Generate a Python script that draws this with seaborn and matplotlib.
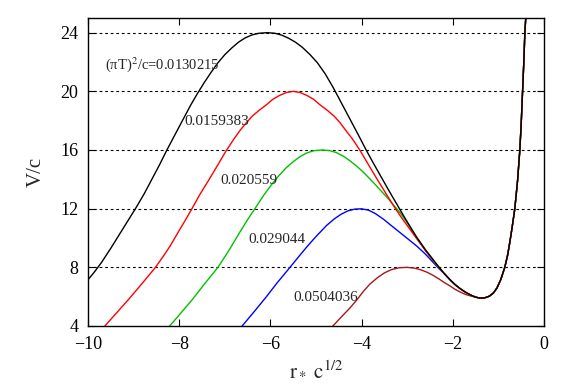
import numpy as np
import pandas as pd
import matplotlib
matplotlib.use('Agg')
import matplotlib.pyplot as plt
import seaborn as sns

# values
labels = ['0.0130215', '0.0159383', '0.020559', '0.029044', '0.0504036']
colors = ['black', '#ff0000', '#00c000', '#0000ff', '#a01a1a']

# shared right-hand branch (all curves merge here)
tail_r = [-2.18, -2.06, -1.95, -1.84, -1.72, -1.6, -1.5, -1.4, -1.3, -1.2, -1.11, -1.03, -0.95,
          -0.86, -0.8, -0.75, -0.7, -0.64, -0.58, -0.53, -0.5, -0.47, -0.44, -0.42, -0.39]
tail_v = [7.55, 7.15, 6.82, 6.55, 6.3, 6.1, 5.97, 5.9, 5.92, 6.03, 6.25, 6.6, 7.15,
          8.0, 8.8, 9.7, 10.7, 12.0, 13.9, 16.0, 17.8, 20.0, 22.2, 24.0, 25.5]

black_r = [-10.0, -9.85, -9.7, -9.5, -9.3, -9.12, -8.95, -8.77, -8.6, -8.43, -8.27, -8.1, -7.93,
           -7.75, -7.6, -7.45, -7.3, -7.15, -7.0, -6.85, -6.7, -6.55, -6.4, -6.25, -6.07, -5.9,
           -5.75, -5.6, -5.45, -5.3, -5.13, -4.97, -4.8, -4.63, -4.45, -4.22, -4.05, -3.9, -3.75,
           -3.6, -3.45, -3.33, -3.17, -3.0, -2.79, -2.6, -2.45, -2.3]
black_v = [7.15, 7.72, 8.35, 9.3, 10.3, 11.2, 12.05, 13.0, 14.0, 15.0, 16.0, 17.0, 18.0,
           19.05, 19.85, 20.6, 21.3, 21.95, 22.5, 22.95, 23.35, 23.65, 23.85, 23.96, 24.0, 23.96,
           23.83, 23.62, 23.35, 23.0, 22.5, 21.95, 21.2, 20.3, 19.25, 17.9, 16.9, 16.0, 15.15,
           14.32, 13.5, 12.85, 12.0, 11.1, 10.05, 9.2, 8.6, 8.0]

red_r = [-9.75, -9.63, -9.4, -9.1, -8.8, -8.52, -8.35, -8.2, -8.04, -7.88, -7.72, -7.55, -7.35,
         -7.15, -6.97, -6.8, -6.65, -6.52, -6.4, -6.25, -6.08, -5.95, -5.8, -5.65, -5.5, -5.35,
         -5.2, -5.05, -4.92, -4.75, -4.6, -4.48, -4.35, -4.2, -4.03, -3.85, -3.65, -3.45, -3.3,
         -3.15, -3.0, -2.79, -2.6, -2.45, -2.3]
red_v = [3.6, 4.0, 4.8, 5.85, 6.95, 8.0, 8.75, 9.45, 10.3, 11.14, 12.0, 12.95, 13.96,
         15.0, 15.95, 16.75, 17.4, 17.88, 18.3, 18.7, 19.1, 19.45, 19.72, 19.92, 20.0, 19.92,
         19.72, 19.45, 19.1, 18.7, 18.3, 17.89, 17.35, 16.75, 15.95, 15.0, 13.96, 12.95, 12.2,
         11.5, 10.85, 9.95, 9.15, 8.55, 8.0]

green_r = [-8.3, -8.21, -8.0, -7.7, -7.45, -7.15, -6.9, -6.67, -6.5, -6.34, -6.15, -5.94, -5.8,
           -5.65, -5.5, -5.35, -5.2, -5.05, -4.86, -4.7, -4.55, -4.4, -4.25, -4.1, -3.95, -3.74,
           -3.6, -3.45, -3.3, -3.15, -3.0, -2.79, -2.6, -2.45, -2.3]
green_v = [3.7, 4.0, 4.75, 5.85, 6.85, 8.0, 9.2, 10.4, 11.25, 12.0, 12.9, 13.78, 14.3,
           14.8, 15.2, 15.55, 15.8, 15.95, 16.0, 15.96, 15.82, 15.58, 15.25, 14.88, 14.45, 13.78,
           13.3, 12.8, 12.25, 11.7, 11.05, 10.0, 9.15, 8.55, 7.95]

blue_r = [-6.7, -6.62, -6.35, -6.1, -5.85, -5.57, -5.4, -5.2, -5.0, -4.77, -4.6, -4.45, -4.3,
          -4.15, -4.0, -3.85, -3.7, -3.52, -3.35, -3.15, -2.97, -2.79, -2.6, -2.45, -2.3]
blue_v = [3.7, 4.0, 5.0, 5.95, 6.95, 8.0, 8.65, 9.4, 10.1, 10.85, 11.3, 11.62, 11.85,
          11.97, 11.99, 11.9, 11.67, 11.28, 10.85, 10.35, 9.9, 9.45, 8.9, 8.4, 7.9]

brown_r = [-4.7, -4.63, -4.45, -4.25, -4.1, -3.95, -3.82, -3.65, -3.5, -3.35, -3.18, -3.01,
           -2.85, -2.7, -2.56, -2.43, -2.3, -2.18, -2.06, -1.95, -1.84, -1.72, -1.6, -1.5]
brown_v = [3.8, 4.0, 4.6, 5.25, 5.8, 6.4, 6.85, 7.3, 7.62, 7.84, 7.97, 8.0,
           7.95, 7.83, 7.66, 7.45, 7.2, 6.95, 6.73, 6.5, 6.32, 6.15, 6.04, 5.96]

curves = [(black_r, black_v), (red_r, red_v), (green_r, green_v), (blue_r, blue_v), (brown_r, brown_v)]

frames = []
for lab, (r, v) in zip(labels, curves):
    # join each curve onto the common branch where it starts to follow it
    keep = [i for i, t in enumerate(tail_r) if t > r[-1] + 1e-9]
    rr = list(r) + [tail_r[i] for i in keep]
    vv = list(v) + [tail_v[i] for i in keep]
    frames.append(pd.DataFrame({'r': rr, 'V': vv, 'T': lab}))
df = pd.concat(frames, ignore_index=True)

sns.set_theme(style='ticks')
plt.rcParams['font.family'] = ['Liberation Serif', 'DejaVu Serif']
plt.rcParams['mathtext.fontset'] = 'stix'

fig = plt.figure(figsize=(5.61, 3.92), dpi=100)
ax = fig.add_axes([88 / 561, 1 - 326 / 392, 456 / 561, 308 / 392])

sns.lineplot(data=df, x='r', y='V', hue='T', hue_order=labels[::-1],
             palette=dict(zip(labels, colors)), estimator=None, sort=False,
             legend=False, linewidth=1.0, ax=ax)

ax.set_xlim(-10, 0)
ax.set_ylim(4, 25)
ax.set_xticks(np.arange(-10, 1, 2))
ax.set_yticks(np.arange(4, 25, 4))
ax.set_xticklabels(['\u221210', '\u22128', '\u22126', '\u22124', '\u22122', '0'])
for yv in [8, 12, 16, 20, 24]:
    ax.axhline(yv, color='black', lw=0.8, ls=(0, (2.5, 2.5)), zorder=0)

ax.tick_params(direction='in', length=5, width=0.8, top=True, right=True,
               labelsize=13, colors='black', pad=7)
for s in ax.spines.values():
    s.set_linewidth(1.0)
    s.set_color('black')

ax.set_xlabel(r'$\mathrm{r_*\ c^{1/2}}$', fontsize=15, labelpad=6)
ax.set_ylabel('V/c', fontsize=15, labelpad=10)

ax.text(-9.62, 21.8, '(\u03c0T)$^{2}$/c=0.0130215', fontsize=10.5, va='center', ha='left')
ax.text(-7.88, 17.96, '0.0159383', fontsize=11, va='center', ha='left')
ax.text(-7.09, 13.94, '0.020559', fontsize=11, va='center', ha='left')
ax.text(-6.48, 9.91, '0.029044', fontsize=11, va='center', ha='left')
ax.text(-5.50, 5.94, '0.0504036', fontsize=11, va='center', ha='left')

fig.savefig('out.png', dpi=100)
